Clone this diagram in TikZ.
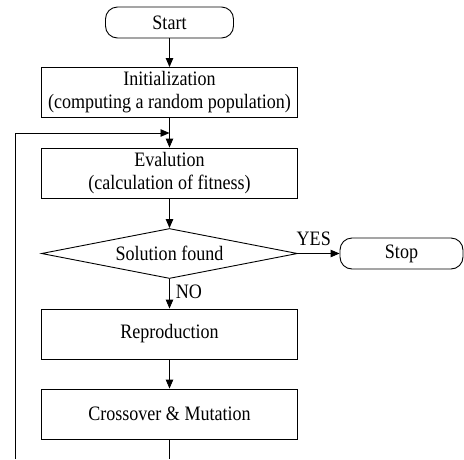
\documentclass[tikz,border=0pt]{standalone}
\usepackage{fontspec}
\setmainfont{Liberation Serif}[FakeStretch=0.88]
\usetikzlibrary{shapes.geometric,arrows.meta}
\begin{document}
\begin{tikzpicture}[x=1pt,y=-1pt,
  every node/.style={font=\fontsize{20.5}{23}\selectfont, inner sep=0pt},
  procbox/.style={draw, line width=0.9pt, rectangle, minimum width=256pt, minimum height=50pt, align=center},
  termbox/.style={draw, line width=0.9pt, rectangle, rounded corners=12pt, minimum height=31pt, align=center},
  decbox/.style={draw, line width=0.9pt, diamond, aspect=5.12, minimum width=256pt, minimum height=50pt},
  flow/.style={line width=0.9pt, -{Triangle[length=9pt,width=7.5pt]}},
  plain/.style={line width=0.9pt}]
\useasboundingbox (0,0) rectangle (464,459);
\node[termbox, minimum width=128pt] (start) at (169.5,22.5) {Start};
\node[procbox] (init) at (169.5,92.5) {Initialization\\(computing a random population)};
\node[procbox] (eval) at (169.5,173) {Evalution\\(calculation of fitness)};
\node[decbox] (dec) at (169.5,253.5) {Solution found};
\node[termbox, minimum width=123pt] (stop) at (401.5,253.5) {Stop};
\node[procbox] (repr) at (169.5,334) {Reproduction};
\node[procbox] (cross) at (169.5,414) {Crossover \& Mutation};
\coordinate (cb) at (169.5,459);
\coordinate (lb) at (15,459);
\coordinate (j) at (169.5,133);
\draw[flow] (start) -- (init);
\draw[flow] (init) -- (eval);
\draw[flow] (eval) -- (dec);
\draw[flow] (dec.east) -- node[above=7pt, pos=0.38] (yes) {YES} (stop.west);
\draw[flow] (dec.south) -- node[right=6pt, pos=0.45] (no) {NO} (repr.north);
\draw[flow] (repr) -- (cross);
\draw[plain] (cross) -- (cb);
\draw[flow] (lb) |- (j);
\end{tikzpicture}
\end{document}
